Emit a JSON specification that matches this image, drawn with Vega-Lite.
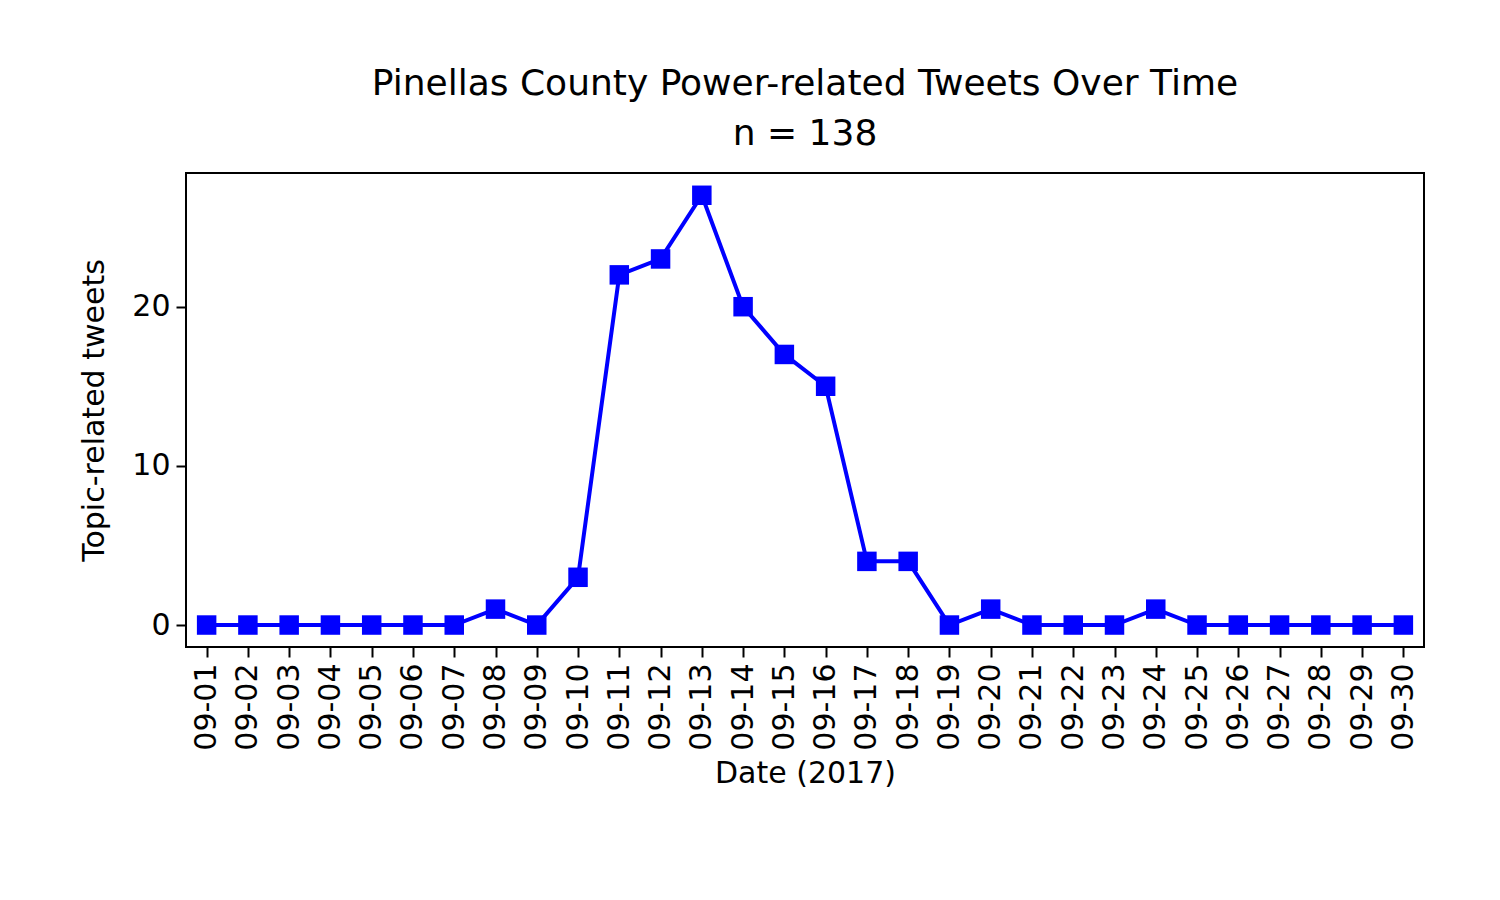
{
  "$schema": "https://vega.github.io/schema/vega-lite/v6.json",
  "width": 1238,
  "height": 474,
  "autosize": "none",
  "padding": {"left": 186, "top": 173, "right": 76, "bottom": 253},
  "background": "white",
  "title": {"text": ["Pinellas County Power-related Tweets Over Time", "n = 138"], "fontSize": 36, "fontWeight": "normal", "font": "DejaVu Sans", "offset": 20, "lineHeight": 50},
  "data": {"values": [
    {"date": "09-01", "count": 0}, {"date": "09-02", "count": 0}, {"date": "09-03", "count": 0},
    {"date": "09-04", "count": 0}, {"date": "09-05", "count": 0}, {"date": "09-06", "count": 0},
    {"date": "09-07", "count": 0}, {"date": "09-08", "count": 1}, {"date": "09-09", "count": 0},
    {"date": "09-10", "count": 3}, {"date": "09-11", "count": 22}, {"date": "09-12", "count": 23},
    {"date": "09-13", "count": 27}, {"date": "09-14", "count": 20}, {"date": "09-15", "count": 17},
    {"date": "09-16", "count": 15}, {"date": "09-17", "count": 4}, {"date": "09-18", "count": 4},
    {"date": "09-19", "count": 0}, {"date": "09-20", "count": 1}, {"date": "09-21", "count": 0},
    {"date": "09-22", "count": 0}, {"date": "09-23", "count": 0}, {"date": "09-24", "count": 1},
    {"date": "09-25", "count": 0}, {"date": "09-26", "count": 0}, {"date": "09-27", "count": 0},
    {"date": "09-28", "count": 0}, {"date": "09-29", "count": 0}, {"date": "09-30", "count": 0}
  ]},
  "encoding": {
    "x": {"field": "date", "type": "ordinal", "scale": {"type": "point", "paddingOuter": 1.47},
      "axis": {"title": "Date (2017)", "labelAngle": -90, "labelFontSize": 30, "titleFontSize": 30, "titleFontWeight": "normal", "tickSize": 10, "tickWidth": 2, "labelPadding": 6, "titlePadding": 8}},
    "y": {"field": "count", "type": "quantitative", "scale": {"domain": [-1.38, 28.4], "nice": false, "zero": false},
      "axis": {"title": "Topic-related tweets", "values": [0, 10, 20], "labelFontSize": 30, "titleFontSize": 30, "titleFontWeight": "normal", "grid": false, "tickSize": 10, "tickWidth": 2, "labelPadding": 6, "titlePadding": 22}}
  },
  "layer": [
    {"mark": {"type": "line", "color": "#0000ff", "strokeWidth": 4}},
    {"mark": {"type": "point", "shape": "square", "filled": true, "color": "#0000ff", "size": 380, "opacity": 1}}
  ],
  "config": {
    "font": "DejaVu Sans",
    "view": {"stroke": "black", "strokeWidth": 2},
    "axis": {"domain": false, "labelColor": "black", "titleColor": "black", "tickColor": "black", "labelFont": "DejaVu Sans", "titleFont": "DejaVu Sans"}
  }
}
